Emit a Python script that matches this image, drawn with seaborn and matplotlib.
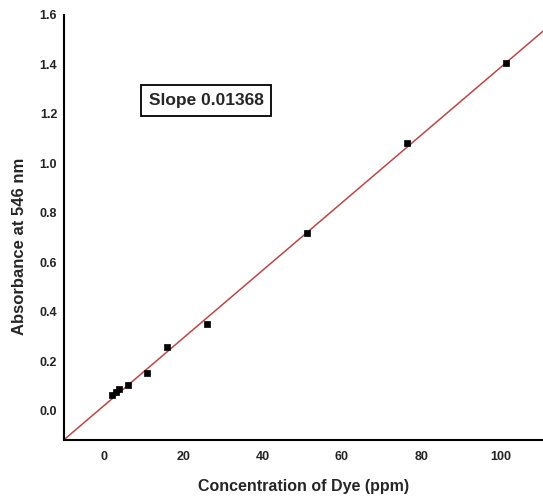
import numpy as np
import pandas as pd
import matplotlib
matplotlib.use("Agg")
import matplotlib.pyplot as plt
import seaborn as sns

# dye calibration readings
concentration = [2.1, 3.0, 3.8, 6.1, 10.9, 15.9, 26.0, 51.2, 76.4, 101.4]
absorbance = [0.061, 0.075, 0.085, 0.101, 0.151, 0.255, 0.348, 0.717, 1.081, 1.405]

# fitted calibration line
slope = 0.01368
intercept = 0.02

x_ticks = [0, 20, 40, 60, 80, 100]
y_ticks = [0.0, 0.2, 0.4, 0.6, 0.8, 1.0, 1.2, 1.4, 1.6]

sns.set_style("white")
plt.rcParams['font.family'] = ['Liberation Sans', 'DejaVu Sans']

df = pd.DataFrame({"conc": concentration, "abs": absorbance})

fig = plt.figure(figsize=(5.43, 4.99), dpi=100)
ax = fig.add_axes([0.118, 0.118, 0.882, 0.852])

# calibration line across the whole plot
ax.axline((0, intercept), slope=slope, color="#b84848", lw=1.1, zorder=1)

sns.scatterplot(data=df, x="conc", y="abs", ax=ax, color="black", marker="s",
                s=13, edgecolor="black", linewidth=0.5, zorder=2)

ax.set_xlim(-10.1, 110.7)
ax.set_ylim(-0.12, 1.6)
ax.set_xticks(x_ticks)
ax.set_yticks(y_ticks)
ax.set_xticklabels([str(t) for t in x_ticks], fontsize=9, fontweight="bold", color="#222222")
ax.set_yticklabels([f"{t:.1f}" for t in y_ticks], fontsize=9, fontweight="bold", color="#222222")
ax.tick_params(axis="x", direction="out", length=5, width=1.2, pad=3)
ax.tick_params(axis="y", length=0, pad=5)

ax.set_xlabel("Concentration of Dye (ppm)", fontsize=11.5, fontweight="bold", labelpad=11)
ax.set_ylabel("Absorbance at 546 nm", fontsize=12, fontweight="bold")
ax.yaxis.set_label_coords(-0.078, 0.456)

for side in ["top", "right"]:
    ax.spines[side].set_visible(False)
for side in ["left", "bottom"]:
    ax.spines[side].set_color("black")
    ax.spines[side].set_linewidth(1.5)

ax.text(25.7, 1.255, "Slope 0.01368", fontsize=12.5, fontweight="bold", ha="center", va="center",
        bbox=dict(boxstyle="square,pad=0.45", facecolor="white", edgecolor="black", linewidth=1.3))

fig.savefig("out.png", dpi=100)
